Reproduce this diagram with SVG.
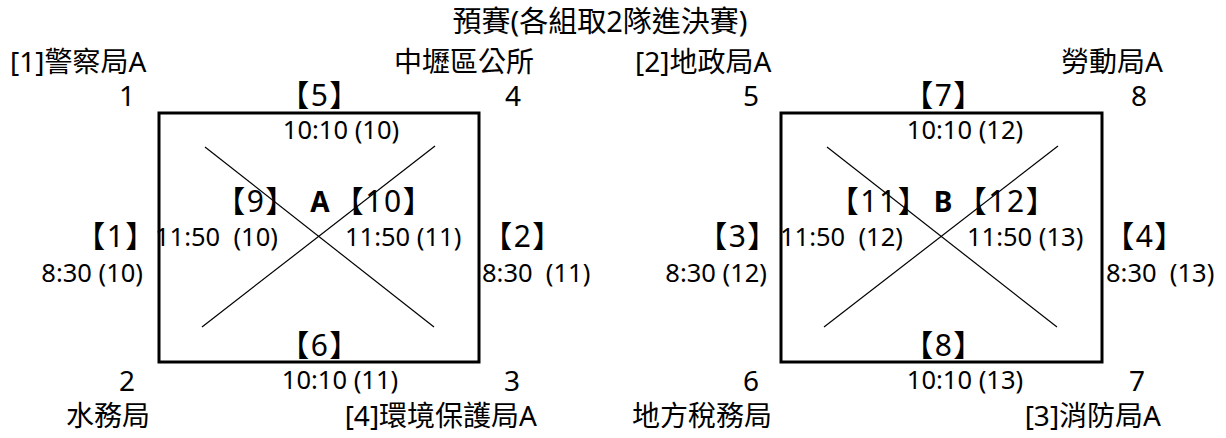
<svg xmlns="http://www.w3.org/2000/svg" width="1226" height="438" viewBox="0 0 1226 438">
<style>
text{font-family:"Noto Sans","Noto Sans CJK TC",sans-serif;fill:#000}
.lb{font-size:28px}
.tt{font-size:29px}
.num{font-size:28px}
.br{font-size:30px;letter-spacing:1.5px}
.tm{font-size:25.5px}
.grp{font-size:28px;font-weight:bold}
.m{text-anchor:middle}
.e{text-anchor:end}
.box{fill:none;stroke:#000;stroke-width:3}
.x{stroke:#000;stroke-width:1.2;fill:none}
</style>
<rect width="1226" height="438" fill="#fff"/>
<g id="title"><text class="tt m" x="600" y="32">預賽(各組取2隊進決賽)</text></g>

<g id="groupA">
<rect class="box" x="159" y="113" width="320" height="249"/>
<text class="lb" x="10" y="72">[1]警察局A</text>
<text class="lb e" x="534" y="72">中壢區公所</text>
<text class="num m" x="127" y="106">1</text>
<text class="br m" x="320" y="106">【5】</text>
<text class="num m" x="513" y="106">4</text>
<text class="tm m" x="341" y="139">10:10 (10)</text>
<text class="br m" x="256" y="212">【9】</text>
<text class="grp m" x="320" y="212">A</text>
<text class="br m" x="384" y="212">【10】</text>
<text class="br m" x="116" y="247">【1】</text>
<text class="tm" x="155" y="246" xml:space="preserve">11:50  (10)</text>
<text class="tm" x="345" y="246">11:50 (11)</text>
<text class="br m" x="523" y="247">【2】</text>
<text class="tm e" x="143" y="282">8:30 (10)</text>
<text class="tm" x="482" y="282" xml:space="preserve">8:30  (11)</text>
<text class="br m" x="320" y="356">【6】</text>
<text class="num m" x="127" y="391">2</text>
<text class="tm m" x="340" y="389">10:10 (11)</text>
<text class="num m" x="512" y="391">3</text>
<text class="lb m" x="108" y="426">水務局</text>
<text class="lb e" x="537" y="426">[4]環境保護局A</text>
</g>

<g id="groupB">
<rect class="box" x="781" y="113" width="321" height="249"/>
<text class="lb" x="635" y="72">[2]地政局A</text>
<text class="lb e" x="1163" y="72">勞動局A</text>
<text class="num m" x="751" y="106">5</text>
<text class="br m" x="944" y="106">【7】</text>
<text class="num m" x="1139" y="106">8</text>
<text class="tm m" x="965" y="139">10:10 (12)</text>
<text class="br m" x="879" y="212">【11】</text>
<text class="grp m" x="943" y="212">B</text>
<text class="br m" x="1007" y="212">【12】</text>
<text class="br m" x="738" y="247">【3】</text>
<text class="tm" x="780" y="246" xml:space="preserve">11:50  (12)</text>
<text class="tm" x="967" y="246">11:50 (13)</text>
<text class="br m" x="1145" y="247">【4】</text>
<text class="tm e" x="767" y="282">8:30 (12)</text>
<text class="tm" x="1106" y="282" xml:space="preserve">8:30  (13)</text>
<text class="br m" x="944" y="356">【8】</text>
<text class="num m" x="751" y="391">6</text>
<text class="tm m" x="965" y="389">10:10 (13)</text>
<text class="num m" x="1137" y="391">7</text>
<text class="lb" x="632" y="426">地方稅務局</text>
<text class="lb e" x="1161" y="426">[3]消防局A</text>
</g>

<g id="connectors">
<line class="x" x1="205" y1="147" x2="434" y2="327"/>
<line class="x" x1="435" y1="146" x2="202" y2="327"/>
<line class="x" x1="827" y1="147" x2="1057" y2="327"/>
<line class="x" x1="1058" y1="146" x2="824" y2="327"/>
</g>
</svg>
